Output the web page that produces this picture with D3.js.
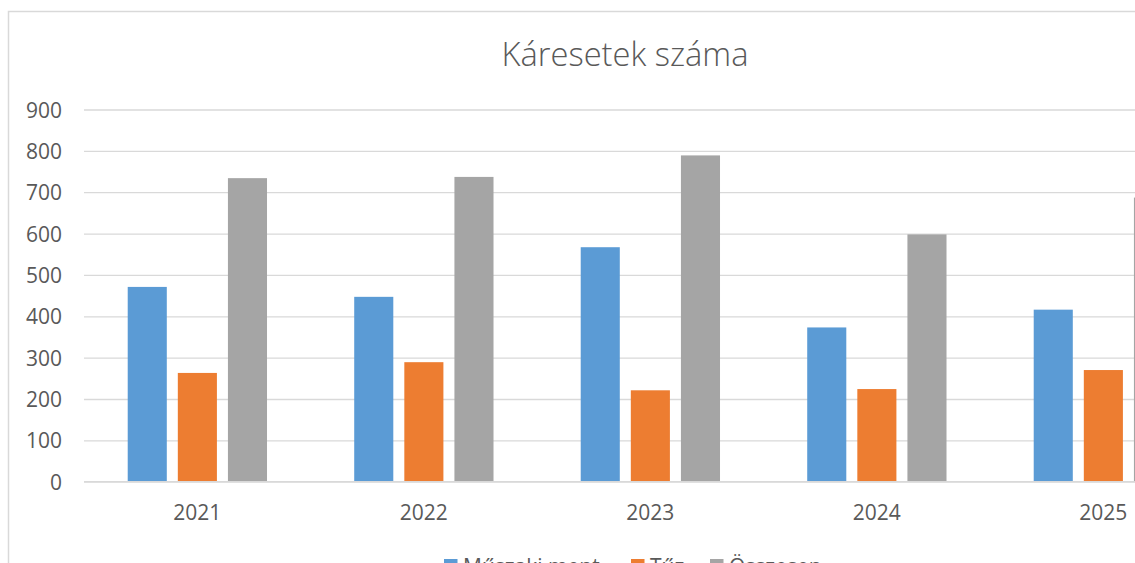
<!DOCTYPE html>
<html>
<head>
<meta charset="utf-8">
<script src="https://cdn.jsdelivr.net/npm/d3@7"></script>
<style>
  html, body { margin: 0; padding: 0; background: #fff; overflow: hidden; }
  text { font-family: "Open Sans", "Noto Sans", sans-serif; fill: #595959; }
</style>
</head>
<body>
<svg id="chart" width="1135" height="563"></svg>
<script>
const title = "Káresetek száma";
const categories = ["2021", "2022", "2023", "2024", "2025"];
const seriesNames = ["Műszaki ment", "Tűz", "Összesen"];
const muszaki = [471, 447, 567, 373, 416];
const tuz = [263, 289, 221, 224, 270];
const osszesen = [734, 737, 789, 598, 687];
const yTicks = [0, 100, 200, 300, 400, 500, 600, 700, 800, 900];
const colors = ["#5b9bd5", "#ed7d31", "#a5a5a5"];

const seriesValues = [muszaki, tuz, osszesen];

const svg = d3.select("#chart");

// chart border (extends past the cropped frame)
svg.append("rect")
  .attr("x", 8.5).attr("y", 11.5)
  .attr("width", 1300).attr("height", 700)
  .attr("fill", "none").attr("stroke", "#d9d9d9").attr("stroke-width", 1.5);

const plotLeft = 84, plotRight = 1216.5, plotTop = 109.5, plotBottom = 481.7;

const y = d3.scaleLinear().domain([0, 900]).range([plotBottom, plotTop]);
const x = d3.scaleBand().domain(categories).range([plotLeft, plotRight]).padding(0);
const bw = x.bandwidth();
const xs = d3.scaleBand().domain(d3.range(3))
  .range([bw * 0.193, bw * 0.808]).paddingInner(0.22).paddingOuter(0);

// gridlines
const yAxis = d3.axisLeft(y).tickValues(yTicks).tickSize(-(plotRight - plotLeft)).tickPadding(22);
const gy = svg.append("g").attr("transform", `translate(${plotLeft},0)`).call(yAxis);
gy.select(".domain").remove();
gy.selectAll(".tick line").attr("stroke", "#d9d9d9").attr("stroke-width", 1.3);
gy.selectAll(".tick text").attr("font-size", 21).attr("fill", "#595959")
  .style("font-family", '"Open Sans", sans-serif').attr("dy", "0.36em");

// bars
const groups = svg.append("g").selectAll("g")
  .data(categories).join("g")
  .attr("transform", d => `translate(${x(d)},0)`);

groups.selectAll("rect")
  .data((d, i) => seriesValues.map((s, k) => ({ k, v: s[i] })))
  .join("rect")
  .attr("x", d => xs(d.k))
  .attr("width", xs.bandwidth())
  .attr("y", d => y(d.v))
  .attr("height", d => y(0) - y(d.v))
  .attr("fill", d => colors[d.k]);

// baseline
svg.append("line")
  .attr("x1", plotLeft).attr("x2", plotRight)
  .attr("y1", y(0)).attr("y2", y(0))
  .attr("stroke", "#d9d9d9").attr("stroke-width", 1.3);

// x axis labels
const xAxis = d3.axisBottom(x).tickSize(0).tickPadding(0);
const gx = svg.append("g").attr("transform", `translate(0,${plotBottom})`).call(xAxis);
gx.select(".domain").remove();
gx.selectAll(".tick text").attr("font-size", 21).attr("fill", "#595959")
  .style("font-family", '"Open Sans", sans-serif')
  .attr("y", 0).attr("dy", 38.5);

// title
const t = svg.append("text")
  .attr("x", 625).attr("y", 66)
  .attr("text-anchor", "middle")
  .attr("font-size", 30)
  .style("font-weight", 300)
  .text(title);
const tl = t.node().getComputedTextLength();
t.attr("font-size", 30 * 247 / tl);

// legend
const legendX = [444, 631, 710];
const lg = svg.append("g").selectAll("g").data(seriesNames).join("g")
  .attr("transform", (d, i) => `translate(${legendX[i]},559)`);
lg.append("rect").attr("width", 13.5).attr("height", 13.5).attr("fill", (d, i) => colors[i]);
lg.append("text").attr("x", 19).attr("y", 14.5)
  .attr("font-size", 21).text(d => d);
</script>
</body>
</html>
